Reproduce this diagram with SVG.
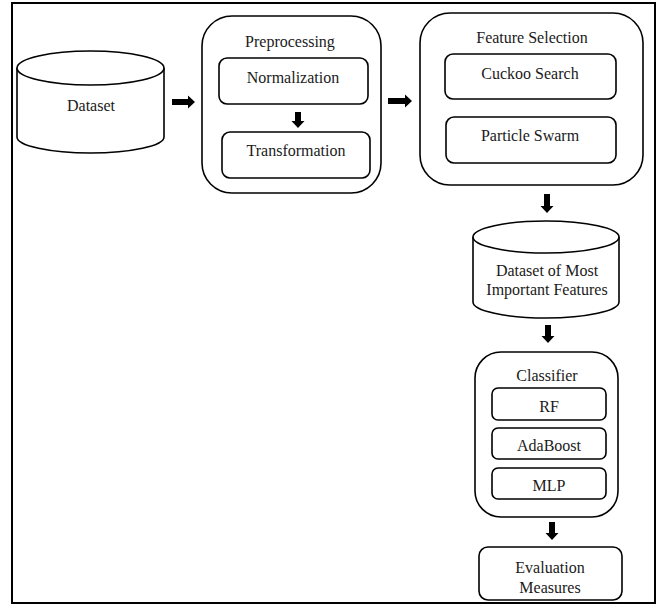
<svg xmlns="http://www.w3.org/2000/svg" width="663" height="605" viewBox="0 0 663 605">
<style>
.frame{fill:#fff;stroke:#000;stroke-width:2}
.box{fill:#fff;stroke:#000;stroke-width:1.6}
.cyl{fill:#fff;stroke:#000;stroke-width:1.6}
.arr{fill:#000;stroke:none}
text{font-family:"Liberation Serif","Times New Roman",serif;font-size:16px;fill:#1a1a1a;text-anchor:middle;dominant-baseline:central}
</style>
<rect class="frame" x="12" y="3" width="643" height="600"/>
<g id="dataset">
<path class="cyl" d="M17,68 V137 A73.5,16 0 0 0 164,137 V68"/>
<ellipse class="cyl" cx="90.5" cy="68" rx="73.5" ry="17"/>
<text x="91" y="105">Dataset</text>
</g>
<g id="preprocessing">
<rect class="box" x="202" y="16" width="179" height="177" rx="30"/>
<text x="290" y="41">Preprocessing</text>
</g>
<g id="normalization">
<rect class="box" x="219" y="58" width="149" height="46" rx="8"/>
<text x="293" y="77">Normalization</text>
</g>
<g id="transformation">
<rect class="box" x="222" y="132" width="148" height="46" rx="8"/>
<text x="296" y="150">Transformation</text>
</g>
<g id="feature-selection">
<rect class="box" x="420" y="13" width="223" height="172" rx="30"/>
<text x="532" y="37">Feature Selection</text>
</g>
<g id="cuckoo">
<rect class="box" x="445" y="54" width="171" height="45" rx="8"/>
<text x="530" y="73">Cuckoo Search</text>
</g>
<g id="pso">
<rect class="box" x="446" y="117" width="170" height="46" rx="8"/>
<text x="530" y="135">Particle Swarm</text>
</g>
<g id="dataset-features">
<path class="cyl" d="M473,237 V302 A73,16 0 0 0 619,302 V237"/>
<ellipse class="cyl" cx="546" cy="237" rx="73" ry="16"/>
<text x="547" y="270">Dataset of Most</text>
<text x="547" y="289">Important Features</text>
</g>
<g id="classifier">
<rect class="box" x="475" y="352" width="143" height="165" rx="26"/>
<text x="547" y="375">Classifier</text>
</g>
<g id="rf">
<rect class="box" x="492" y="388" width="114" height="32" rx="6"/>
<text x="549" y="406">RF</text>
</g>
<g id="adaboost">
<rect class="box" x="492" y="428" width="114" height="31" rx="6"/>
<text x="549" y="445">AdaBoost</text>
</g>
<g id="mlp">
<rect class="box" x="492" y="468" width="114" height="31" rx="6"/>
<text x="549" y="485">MLP</text>
</g>
<g id="evaluation">
<rect class="box" x="479" y="547" width="143" height="53" rx="9"/>
<text x="550" y="567">Evaluation</text>
<text x="550" y="587">Measures</text>
</g>
<g id="connectors">
<path class="arr" d="M172,99 H188 V95.5 L195,102 L188,108.5 V105 H172 Z"/>
<path class="arr" d="M388,98 H405 V94.5 L412,101 L405,107.5 V104 H388 Z"/>
<path class="arr" d="M295,112 V121 H291.5 L298,128 L304.5,121 H301 V112 Z"/>
<path class="arr" d="M544,194 V206 H540.5 L547,213 L553.5,206 H550 V194 Z"/>
<path class="arr" d="M545,325 V336 H541.5 L548,343 L554.5,336 H551 V325 Z"/>
<path class="arr" d="M549,522 V533 H545.5 L552,540 L558.5,533 H555 V522 Z"/>
</g>
</svg>
